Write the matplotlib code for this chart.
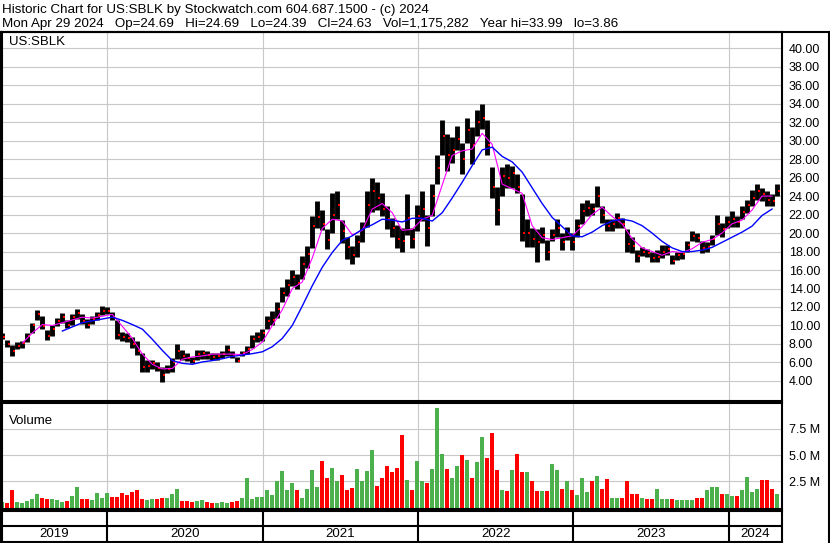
import numpy as np
import pandas as pd
import matplotlib
matplotlib.use("Agg")
import matplotlib.pyplot as plt
import matplotlib.dates as mdates
from matplotlib.lines import Line2D

plt.rcParams['font.family'] = ['Liberation Sans', 'DejaVu Sans']

# Price bars (roughly every 12 calendar days), Apr 2019 - Apr 2024
highs = [9.2, 8.4, 7.9, 8.2, 8.3, 9.2, 10.3, 11.7, 11.0, 9.5,
         10.0, 10.8, 11.4, 10.6, 11.2, 11.8, 11.2, 10.7, 11.0, 11.5,
         12.1, 12.0, 11.5, 10.6, 9.3, 9.2, 8.8, 8.3, 7.0, 6.3,
         6.3, 6.1, 5.5, 5.7, 6.5, 8.0, 7.3, 7.0, 6.6, 7.3,
         7.3, 7.2, 7.0, 7.0, 7.2, 7.9, 7.2, 6.6, 7.2, 7.8,
         9.0, 9.3, 9.6, 11.0, 11.6, 12.5, 14.2, 15.0, 16.0, 15.6,
         17.5, 18.6, 21.8, 23.5, 22.5, 20.4, 24.3, 24.5, 21.4, 19.6,
         18.6, 19.8, 21.2, 24.5, 26.0, 25.5, 24.3, 22.9, 21.6, 20.9,
         20.5, 24.2, 20.5, 23.0, 24.5, 22.0, 25.3, 28.5, 32.2, 30.7,
         30.4, 31.6, 29.8, 32.5, 31.5, 33.3, 34.0, 32.2, 27.1, 25.0,
         27.1, 27.5, 27.3, 26.4, 24.2, 21.5, 20.5, 20.4, 20.7, 19.2,
         20.4, 21.5, 20.0, 20.7, 20.0, 21.5, 23.3, 23.6, 23.3, 25.1,
         22.9, 21.5, 21.5, 22.2, 21.6, 20.4, 19.6, 18.2, 18.5, 18.3,
         18.0, 18.2, 18.7, 18.7, 17.6, 18.0, 18.0, 19.1, 20.2, 20.0,
         19.1, 19.0, 19.8, 22.0, 21.1, 21.8, 22.4, 21.8, 22.9, 23.6,
         24.7, 25.3, 24.9, 24.5, 24.2, 25.3]
lows = [8.5, 7.7, 6.7, 7.4, 7.6, 8.2, 9.2, 10.6, 9.6, 8.4,
        8.9, 9.9, 10.3, 9.7, 10.0, 10.7, 10.2, 9.7, 10.2, 10.6,
        11.1, 11.2, 10.6, 8.5, 8.3, 8.2, 7.6, 6.8, 5.0, 5.0,
        5.3, 5.1, 3.9, 4.9, 5.0, 6.4, 6.3, 6.2, 5.9, 6.3,
        6.4, 6.4, 6.3, 6.3, 6.5, 6.7, 6.5, 6.0, 6.7, 6.9,
        7.6, 8.2, 8.3, 9.6, 10.1, 10.8, 12.5, 13.2, 14.3, 14.0,
        15.0, 16.2, 18.4, 20.6, 20.3, 18.3, 20.0, 21.5, 18.9, 17.2,
        16.6, 17.4, 19.0, 20.7, 22.3, 22.5, 21.8, 20.4, 19.6, 18.4,
        18.0, 19.8, 18.4, 20.2, 21.3, 18.6, 21.8, 25.3, 28.5, 26.7,
        27.6, 29.0, 26.4, 29.8, 27.5, 30.5, 31.3, 28.5, 23.8, 20.9,
        24.0, 24.9, 24.9, 24.3, 19.1, 18.5, 18.5, 16.9, 18.9, 17.1,
        19.1, 19.6, 18.2, 19.3, 18.2, 19.6, 21.0, 21.8, 22.0, 22.8,
        21.1, 20.2, 20.2, 20.5, 20.5, 18.0, 17.8, 16.9, 17.5, 17.4,
        16.9, 16.9, 17.3, 17.6, 16.7, 17.1, 17.2, 18.0, 19.1, 19.0,
        17.8, 18.0, 18.7, 19.8, 19.6, 20.5, 20.7, 20.7, 21.5, 22.2,
        22.9, 23.6, 23.5, 22.9, 22.9, 24.0]
closes = [8.8, 8.0, 7.2, 7.8, 8.1, 8.9, 10.0, 11.2, 9.9, 8.9,
          9.6, 10.5, 10.9, 10.0, 10.9, 11.3, 10.5, 10.1, 10.7, 11.1,
          11.6, 11.6, 10.9, 9.0, 8.8, 8.6, 8.0, 7.2, 5.5, 5.6,
          5.9, 5.4, 4.6, 5.3, 6.0, 7.2, 6.7, 6.5, 6.2, 6.9,
          7.0, 6.8, 6.6, 6.7, 6.9, 7.3, 6.8, 6.2, 7.0, 7.4,
          8.5, 8.7, 9.2, 10.5, 10.6, 11.8, 13.5, 14.4, 15.2, 14.6,
          16.6, 17.7, 20.8, 21.7, 21.0, 19.2, 22.0, 23.0, 20.2, 18.5,
          17.6, 19.0, 20.6, 23.0, 24.6, 23.8, 22.6, 21.5, 20.5, 19.4,
          19.1, 21.6, 19.4, 21.8, 22.6, 20.5, 24.0, 27.0, 30.5, 28.5,
          29.0, 30.2, 28.0, 31.2, 29.5, 32.0, 32.5, 29.5, 25.0, 22.5,
          26.2, 26.0, 26.5, 25.0, 20.0, 20.0, 19.4, 19.0, 19.8, 18.0,
          19.8, 20.5, 19.0, 20.0, 19.0, 20.8, 22.4, 22.7, 22.6, 24.0,
          22.0, 20.8, 21.0, 21.6, 21.0, 18.8, 18.6, 17.5, 18.0, 17.8,
          17.3, 17.4, 18.0, 18.3, 17.0, 17.6, 17.7, 18.7, 19.7, 19.5,
          18.4, 18.5, 19.4, 21.0, 20.4, 21.2, 21.5, 21.2, 22.3, 23.0,
          23.8, 24.5, 24.2, 23.6, 23.5, 24.6]
# volume in millions
volumes = [0.5, 0.4, 1.7, 0.5, 0.4, 0.6, 0.8, 1.3, 0.9, 0.8,
           0.8, 0.7, 0.5, 0.6, 1.1, 2.0, 0.8, 0.8, 0.7, 1.35,
           0.9, 1.35, 1.0, 1.0, 1.4, 1.2, 1.5, 1.65, 0.8, 0.7,
           0.8, 0.8, 0.9, 0.9, 1.3, 1.75, 0.6, 0.6, 0.5, 0.6,
           0.7, 0.5, 0.4, 0.4, 0.5, 0.4, 0.5, 0.6, 0.9, 2.8,
           0.8, 1.0, 1.0, 1.65, 1.2, 2.5, 3.5, 1.65, 2.3, 1.65,
           0.9, 1.8, 3.6, 2.0, 4.45, 2.8, 3.8, 2.5, 3.1, 1.7,
           1.9, 3.7, 2.5, 3.5, 5.5, 2.1, 2.8, 3.95, 3.4, 3.8,
           6.9, 2.6, 1.7, 4.4, 2.5, 2.3, 3.7, 9.45, 5.1, 3.7,
           2.8, 3.95, 5.0, 4.5, 2.8, 4.35, 6.7, 4.7, 7.1, 3.6,
           1.65, 1.6, 3.6, 5.1, 3.4, 3.4, 2.5, 1.6, 1.6, 1.6,
           4.15, 3.6, 1.8, 2.5, 1.65, 1.2, 2.8, 1.5, 2.5, 3.0,
           1.8, 2.7, 0.9, 0.9, 0.9, 2.55, 1.3, 1.3, 0.9, 0.8,
           0.8, 1.8, 0.8, 0.8, 0.8, 0.7, 0.7, 0.7, 0.7, 0.9,
           0.9, 1.65, 2.0, 2.0, 1.3, 1.3, 1.1, 1.1, 1.65, 2.9,
           1.5, 1.8, 2.6, 2.6, 1.8, 1.3]

# moving averages, read at every second bar
ma_short = [np.nan, np.nan, 8.1, 9.2, 10.1, 10.0, 10.3, 10.6, 10.9, 10.8,
            11.0, 11.2, 9.9, 8.6, 6.9, 5.8, 5.3, 5.35, 6.35, 6.6,
            6.7, 6.9, 6.9, 6.9, 6.85, 7.4, 8.2, 10.0, 11.7, 14.0,
            14.7, 17.3, 20.5, 21.5, 21.3, 19.8, 20.3, 22.6, 23.2, 22.2,
            20.3, 20.4, 21.5, 21.9, 25.2, 28.4, 28.9, 29.1, 30.8, 29.6,
            25.3, 24.8, 24.3, 20.8, 19.5, 19.3, 19.5, 19.7, 20.7, 22.0,
            22.8, 21.8, 21.0, 19.4, 18.4, 18.0, 17.6, 18.0, 17.9, 18.3,
            19.0, 19.3, 20.0, 21.0, 21.4, 22.5, 24.0, 24.0]
ma_long = [np.nan, np.nan, np.nan, np.nan, np.nan, np.nan, 9.4, 9.85, 10.3, 10.5,
           10.7, 10.9, 10.55, 10.1, 9.6, 8.5, 7.3, 6.2, 5.9, 5.8,
           6.05, 6.2, 6.4, 6.65, 6.8, 6.95, 7.15, 7.7, 8.6, 10.0,
           12.1, 14.3, 16.3, 17.9, 19.2, 19.7, 20.4, 20.9, 21.5, 21.4,
           21.2, 21.6, 21.6, 21.3, 22.2, 23.8, 25.5, 27.3, 29.0, 29.3,
           28.3, 27.7, 26.6, 24.9, 23.2, 21.7, 20.7, 19.7, 19.6, 20.1,
           20.8, 21.3, 21.5, 21.3, 20.8, 20.0, 19.1, 18.4, 18.0, 18.0,
           18.15, 18.45, 19.0, 19.55, 20.1, 20.75, 21.9, 22.6]

years = [2019, 2020, 2021, 2022, 2023, 2024]
price_ticks = np.arange(4, 41, 2)
vol_ticks = [2.5, 5.0, 7.5]

title1 = "Historic Chart for US:SBLK by Stockwatch.com 604.687.1500 - (c) 2024"
title2 = ("Mon Apr 29 2024   Op=24.69   Hi=24.69   Lo=24.39   Cl=24.63   "
          "Vol=1,175,282   Year hi=33.99   lo=3.86")

dates = pd.date_range("2019-04-30", "2024-04-24", periods=len(highs))
xd = mdates.date2num(dates)
x_lo = mdates.date2num(pd.Timestamp("2019-04-29"))
x_hi = mdates.date2num(pd.Timestamp("2024-05-05"))
year_x = [mdates.date2num(pd.Timestamp(f"{y}-01-01")) for y in years[1:]]

W, H = 830, 543
fig = plt.figure(figsize=(W / 100, H / 100), dpi=100)


def box(x0, y0, x1, y1):
    return [x0 / W, 1 - y1 / H, (x1 - x0) / W, (y1 - y0) / H]


ax = fig.add_axes(box(2, 32, 781.7, 400.5))
axv = fig.add_axes(box(2, 402.7, 781.7, 509))
axy = fig.add_axes(box(2, 510.5, 781.7, 541.5))

grid_c = "#c8c8c8"
for a in (ax, axv, axy):
    a.set_xlim(x_lo, x_hi)
    a.set_xticks([])
    for s in a.spines.values():
        s.set_linewidth(1.5)
        s.set_color("black")

# price panel
for t in price_ticks:
    ax.axhline(t, color=grid_c, lw=0.8, zorder=0)
for yx in year_x:
    ax.axvline(yx, color=grid_c, lw=0.8, zorder=0)
ax.vlines(xd, lows, highs, color="black", lw=3.5, zorder=2)
ax.scatter(xd + 3.5, closes, s=3, marker="s", color="red", lw=0, zorder=3)
ax.plot(xd[::2], ma_short, color="#ff00ff", lw=0.8, zorder=4)
ax.plot(xd[::2], ma_long, color="#0000ff", lw=1.0, zorder=4)
ax.set_ylim(1.88, 41.76)
ax.yaxis.tick_right()
ax.set_yticks(price_ticks)
ax.set_yticklabels([f"{t:.2f}" for t in price_ticks])
ax.tick_params(axis="y", length=0, pad=5, labelsize=9)
ax.text(0.009, 0.973, "US:SBLK", transform=ax.transAxes, fontsize=9.5, va="center")

# volume panel
for t in vol_ticks:
    axv.axhline(t, color=grid_c, lw=0.8, zorder=0)
for yx in year_x:
    axv.axvline(yx, color=grid_c, lw=0.8, zorder=0)
prev = [closes[0]] + closes[:-1]
vcol = ["#4cb04c" if c >= p else "#ff0000" for c, p in zip(closes, prev)]
axv.bar(xd, volumes, width=9.5, color=vcol, zorder=2)
axv.set_ylim(-0.14, 10.0)
axv.yaxis.tick_right()
axv.set_yticks(vol_ticks)
axv.set_yticklabels([f"{t:.1f} M" for t in vol_ticks])
axv.tick_params(axis="y", length=0, pad=5, labelsize=9)
axv.text(0.009, 0.83, "Volume", transform=axv.transAxes, fontsize=9.5, va="center")

# year strip
axy.set_ylim(0, 1)
axy.set_yticks([])
axy.axhline(0.5, color="black", lw=1.5)
for yx in year_x:
    axy.axvline(yx, color="black", lw=1.5)
edges = [x_lo] + year_x + [x_hi]
for y, a, b in zip(years, edges[:-1], edges[1:]):
    axy.text((a + b) / 2, 0.24, str(y), ha="center", va="center", fontsize=9.5)

# outer frame
fig.add_artist(Line2D([0, 1], [1 - 31.5 / H] * 2, color="black", lw=1.5))
fig.add_artist(Line2D([1 / W] * 2, [0, 1 - 31.5 / H], color="black", lw=1.5))
fig.add_artist(Line2D([829 / W] * 2, [0, 1 - 31.5 / H], color="black", lw=1.5))

fig.text(2 / W, 1 - 9.5 / H, title1, fontsize=9.6, va="center")
fig.text(2 / W, 1 - 23.5 / H, title2, fontsize=9.6, va="center")

fig.savefig("out.png", dpi=100, facecolor="white")
